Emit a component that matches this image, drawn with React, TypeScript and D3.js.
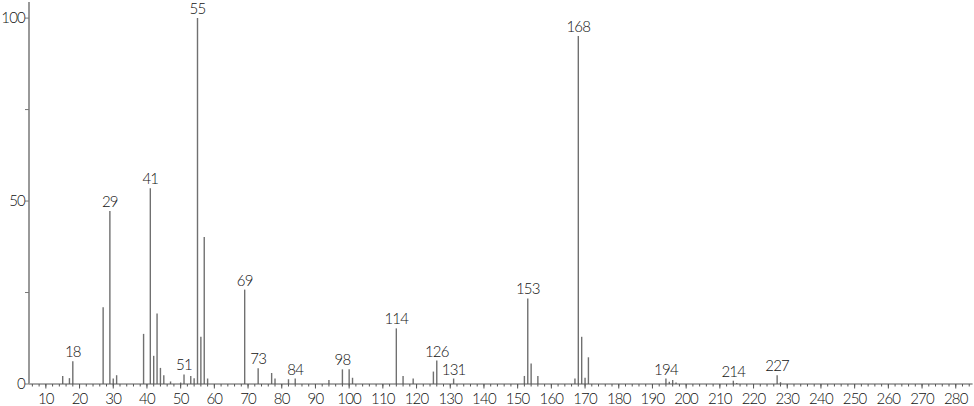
import React from "react";
import * as d3 from "d3";

const masses = [15, 17, 18, 27, 29, 30, 31, 39, 41, 42, 43, 44, 45, 47, 50, 51, 53, 54, 55, 56, 57, 58, 69, 73, 77, 78, 82, 84, 94, 98, 100, 101, 114, 116, 119, 125, 126, 131, 152, 153, 154, 156, 167, 168, 169, 170, 171, 194, 195, 196, 197, 214, 215, 227, 228];
const intensities = [2.2, 1.6, 6.2, 21.0, 47.3, 1.5, 2.4, 13.7, 53.5, 7.7, 19.3, 4.4, 2.4, 0.7, 0.4, 2.6, 2.2, 1.6, 100, 12.9, 40.2, 1.5, 25.8, 4.3, 3.0, 1.5, 1.3, 1.5, 1.1, 4.0, 4.0, 1.7, 15.2, 2.2, 1.5, 3.4, 6.4, 1.5, 2.2, 23.4, 5.6, 2.2, 1.5, 95.1, 12.9, 1.7, 7.3, 1.5, 0.6, 1.1, 0.4, 0.9, 0.3, 2.4, 0.5];
const labeledMasses = [18, 29, 41, 51, 55, 69, 73, 84, 98, 114, 126, 131, 153, 168, 194, 214, 227];
const xMajorTicks = d3.range(10, 281, 10);
const xMinorTicks = d3.range(6, 285, 2);
const yTicks = [0, 25, 50, 75, 100];
const yLabels = [0, 50, 100];

const W = 974;
const H = 406;
const FONT = "Lato, 'DejaVu Sans', sans-serif";

export default function App() {
  const x = d3.scaleLinear().domain([5, 285]).range([29, 972.6]);
  const y = d3.scaleLinear().domain([0, 104.4]).range([384, 2]);
  const peaks = masses.map((m, i) => ({ m, v: intensities[i] }));
  return (
    <svg width={W} height={H} style={{ position: "absolute", left: 0, top: 0, background: "#fff" }}>
      <g fontFamily={FONT} fontWeight={300} fill="#111">
        {peaks.map((p) => (
          <line key={p.m} x1={x(p.m)} x2={x(p.m)} y1={y(0)} y2={y(p.v)} stroke="#707070" strokeWidth={1.4} />
        ))}
        <line x1={x(5)} x2={x(285)} y1={y(0)} y2={y(0)} stroke="#555" strokeWidth={1} />
        {xMinorTicks.map((t) => (
          <line key={"mi" + t} x1={x(t)} x2={x(t)} y1={y(0)} y2={y(0) + 2.5} stroke="#555" strokeWidth={1} />
        ))}
        {xMajorTicks.map((t) => (
          <line key={"ma" + t} x1={x(t)} x2={x(t)} y1={y(0)} y2={y(0) + 4.5} stroke="#555" strokeWidth={1} />
        ))}
        {xMajorTicks.map((t) => (
          <text key={"xl" + t} x={x(t)} y={404} textAnchor="middle" fontSize={15} letterSpacing={-0.8}>
            {t}
          </text>
        ))}
        <line x1={29} x2={29} y1={y(104.4)} y2={y(0)} stroke="#999" strokeWidth={2} />
        {yTicks.map((t) => (
          <line key={"yt" + t} x1={25} x2={29} y1={y(t)} y2={y(t)} stroke="#777" strokeWidth={1} />
        ))}
        {yLabels.map((t) => (
          <text key={"yl" + t} x={25} y={y(t) + 5} textAnchor="end" fontSize={15} letterSpacing={-0.8}>
            {t}
          </text>
        ))}
        {labeledMasses.map((m) => {
          const v = intensities[masses.indexOf(m)];
          return (
            <text key={"pl" + m} x={x(m)} y={y(v) - 4} textAnchor="middle" fontSize={15} letterSpacing={-0.8}>
              {m}
            </text>
          );
        })}
      </g>
    </svg>
  );
}
